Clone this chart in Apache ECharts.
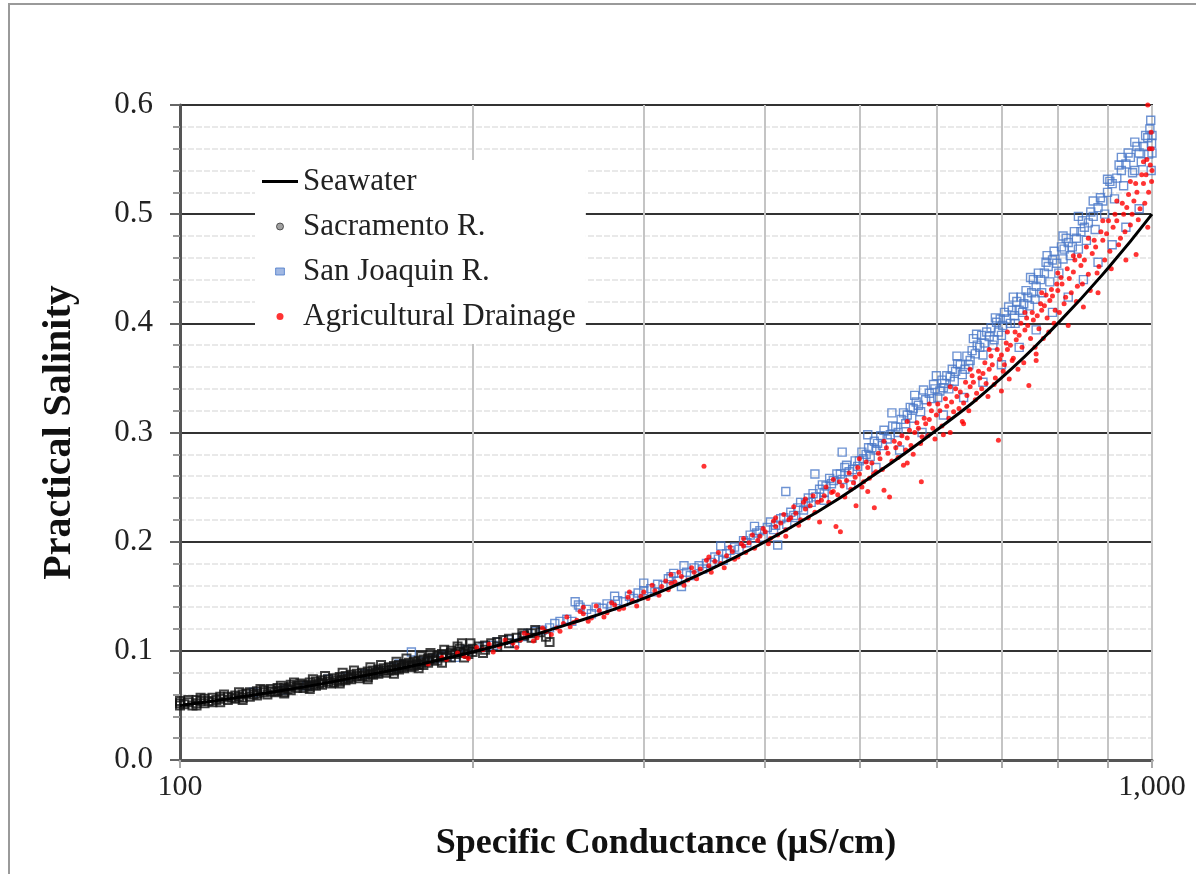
<!DOCTYPE html>
<html>
<head>
<meta charset="utf-8">
<script src="https://cdn.jsdelivr.net/npm/echarts@6/dist/echarts.min.js"></script>
<style>
  html, body { margin: 0; padding: 0; background: #fff; }
  #chart { width: 1196px; height: 874px; }
</style>
</head>
<body>
<div id="chart"></div>
<script>
// seawater reference curve
const seawater = [
  [100, 0.050], [120, 0.060], [150, 0.075], [200, 0.099], [250, 0.124], [300, 0.148],
  [350, 0.174], [400, 0.200], [450, 0.226], [500, 0.252], [600, 0.302], [700, 0.350],
  [800, 0.400], [900, 0.450], [1000, 0.500]
]

const sacramento = [
  [100, .050], [100, .052], [100, .054], [101, .051], [102, .053], [102, .055], [103, .050], [104, .052],
  [104, .055], [105, .054], [106, .052], [106, .056], [107, .054], [108, .057], [108, .053], [109, .055],
  [110, .056], [110, .053], [110, .058], [112, .055], [112, .058], [113, .057], [114, .059], [114, .056],
  [115, .058], [116, .060], [116, .057], [117, .061], [118, .058], [118, .062], [119, .060], [120, .061],
  [120, .063], [120, .059], [122, .062], [122, .064], [123, .060], [124, .063], [124, .065], [125, .062],
  [126, .066], [126, .063], [127, .064], [128, .062], [128, .066], [129, .065], [130, .067], [130, .064],
  [130, .069], [132, .066], [132, .068], [133, .070], [134, .066], [134, .069], [135, .068], [136, .071],
  [136, .067], [137, .069], [138, .072], [138, .068], [139, .070], [140, .073], [140, .069], [140, .071],
  [142, .072], [142, .074], [143, .070], [144, .075], [144, .071], [145, .073], [146, .076], [146, .072],
  [147, .074], [148, .077], [148, .073], [149, .075], [150, .076], [150, .078], [150, .074], [152, .077],
  [152, .079], [153, .075], [154, .080], [154, .077], [155, .078], [156, .081], [156, .076], [157, .079],
  [158, .082], [158, .078], [159, .080], [160, .081], [160, .083], [160, .079], [162, .082], [162, .084],
  [163, .080], [164, .085], [164, .082], [165, .083], [166, .086], [166, .082], [167, .084], [168, .087],
  [168, .083], [169, .085], [170, .086], [170, .088], [170, .084], [172, .087], [172, .089], [173, .085],
  [174, .090], [174, .086], [175, .088], [176, .091], [176, .087], [177, .089], [178, .092], [178, .087],
  [180, .091], [180, .093], [180, .089], [182, .092], [182, .094], [184, .095], [184, .091], [186, .094],
  [186, .097], [188, .095], [190, .098], [190, .094], [190, .100], [192, .097], [194, .099], [194, .102],
  [195, .107], [196, .098], [198, .101], [198, .097], [200, .102], [200, .099], [203, .104], [206, .105],
  [206, .101], [209, .107], [212, .108], [212, .104], [215, .110], [218, .107], [218, .111], [222, .112],
  [226, .114], [230, .116], [230, .112], [235, .117], [238, .113], [240, .108],
  [105, .057], [111, .060], [115, .062], [121, .065], [127, .068], [131, .071], [137, .074], [141, .077],
  [147, .080], [151, .082], [157, .085], [161, .087], [167, .090], [171, .093], [177, .095], [181, .098],
  [187, .101], [193, .104], [199, .107], [104, .050], [116, .055], [128, .061], [136, .065], [146, .070],
  [156, .074], [166, .079], [176, .084], [186, .089], [196, .094], [205, .098], [225, .116], [232, .119]
]

const sanJoaquin = [
  [119, .062], [128, .064], [135, .068], [142, .074], [148, .076], [155, .079], [160, .081], [166, .085],
  [168, .088], [173, .099], [178, .090], [183, .093], [186, .095], [192, .094], [197, .101], [205, .104],
  [210, .105], [212, .108], [218, .110], [221, .107], [225, .113], [228, .116], [232, .118], [236, .119],
  [240, .121], [243, .125], [246, .127], [250, .129], [253, .127],
  [255, .145], [257, .142], [258, .140], [262, .138], [265, .134], [268, .140], [272, .139], [275, .143],
  [278, .141], [282, .146], [286, .145], [290, .150], [293, .148], [296, .153], [300, .155], [305, .157],
  [308, .154], [310, .161], [314, .160], [318, .166], [320, .168], [322, .171], [325, .164], [328, .159],
  [332, .172], [335, .169], [338, .176], [342, .178], [345, .175], [348, .180], [352, .181], [355, .186],
  [358, .184], [362, .183], [365, .189], [368, .192], [372, .195], [376, .193], [380, .201], [383, .199],
  [386, .206], [389, .203], [392, .208], [395, .210], [398, .204],
  [402, .213], [405, .218], [408, .211], [410, .215], [412, .197], [415, .221], [418, .222], [421, .216],
  [425, .227], [428, .224], [432, .231], [435, .236], [438, .229], [440, .235], [443, .240], [446, .236],
  [448, .244], [451, .241], [455, .248], [458, .252], [460, .245], [462, .251], [466, .258], [468, .253],
  [470, .256], [474, .262], [478, .262], [480, .257], [483, .268], [485, .270], [488, .264], [492, .266],
  [495, .274], [498, .269], [500, .274], [503, .282], [505, .276], [508, .280], [511, .286], [513, .278],
  [515, .286], [518, .292], [520, .284], [522, .290], [526, .297], [528, .288], [530, .302], [534, .294],
  [538, .298], [541, .306], [545, .305], [548, .300], [552, .312], [555, .318], [558, .308], [560, .316],
  [564, .323], [566, .313], [568, .322], [572, .328], [575, .325], [578, .319], [582, .339], [585, .330],
  [590, .336], [593, .331], [596, .344], [598, .340],
  [602, .332], [605, .338], [608, .348], [610, .341], [612, .345], [615, .352], [618, .340], [620, .351],
  [623, .358], [626, .347], [628, .356], [631, .363], [635, .362], [638, .353], [642, .358], [645, .370],
  [648, .362], [650, .366], [653, .375], [655, .386], [658, .372], [661, .380], [665, .378], [668, .389],
  [670, .371], [672, .382], [676, .392], [680, .388], [683, .396], [686, .380], [688, .385], [692, .401],
  [695, .392], [698, .404], [700, .389], [702, .398], [705, .410], [708, .404], [712, .415], [715, .400],
  [718, .412], [722, .407], [723, .400], [726, .420], [730, .412], [733, .424], [736, .410], [738, .418],
  [742, .430], [745, .424], [748, .416], [752, .428], [755, .440], [758, .422], [760, .434], [764, .446],
  [768, .440], [770, .428], [775, .446], [778, .456], [782, .452], [785, .438], [790, .458], [793, .466],
  [798, .455],
  [802, .446], [807, .470], [810, .459], [812, .468], [816, .478], [820, .474], [824, .462], [828, .470],
  [832, .484], [836, .478], [840, .468], [845, .484], [848, .494], [852, .488], [856, .476], [860, .492],
  [865, .502], [870, .498], [874, .486], [880, .506], [885, .515], [890, .512], [894, .500], [900, .520],
  [905, .530], [910, .528], [915, .514], [920, .533], [925, .545], [930, .540], [935, .526], [940, .546],
  [945, .556], [950, .552], [955, .538], [960, .540], [965, .562], [970, .556], [975, .548], [980, .562],
  [985, .572], [990, .570], [992, .555], [995, .578], [997, .586], [1000, .556], [998, .540], [1000, .572],
  [999, .565],
  [420, .246], [450, .262], [480, .282], [510, .298], [540, .318], [570, .334], [600, .352], [630, .370],
  [660, .390], [690, .405], [720, .424], [750, .442], [780, .462], [810, .480], [840, .498], [870, .512],
  [900, .532], [930, .552], [960, .566], [430, .222], [460, .238], [490, .252], [520, .268], [550, .284],
  [580, .300], [610, .316], [640, .332], [670, .346], [700, .362], [730, .378], [760, .394], [790, .410],
  [820, .424], [850, .440], [880, .456], [910, .472], [940, .488], [970, .505], [330, .178], [360, .196],
  [390, .214], [300, .162], [280, .150]
]

const agDrainage = [
  [180, .088], [186, .094], [188, .092], [193, .098], [196, .095], [198, .093], [202, .103], [205, .101],
  [208, .106], [210, .099], [213, .104], [216, .110], [220, .107], [222, .103], [224, .110], [226, .116],
  [228, .114], [231, .109], [233, .112], [236, .121], [238, .118], [241, .115], [244, .121], [246, .118],
  [248, .125], [250, .131], [252, .122], [254, .126], [256, .128], [258, .136], [260, .134], [263, .127],
  [265, .130], [268, .141], [270, .137], [273, .131], [275, .135], [278, .144], [280, .142], [283, .138],
  [286, .139], [289, .149], [292, .146], [295, .141], [298, .150],
  [300, .154], [303, .148], [306, .160], [308, .155], [311, .151], [313, .159], [316, .164], [318, .156],
  [320, .162], [323, .163], [326, .172], [328, .168], [330, .160], [333, .165], [336, .176], [338, .172],
  [340, .166], [343, .175], [346, .269], [348, .183], [350, .178], [352, .172], [355, .182], [358, .190],
  [360, .180], [363, .176], [365, .187], [368, .195], [370, .191], [372, .184], [375, .186], [378, .198],
  [380, .196], [382, .190], [385, .199], [388, .206], [390, .194], [393, .201], [395, .205], [398, .212],
  [400, .209], [403, .198], [405, .203], [408, .219], [410, .214], [412, .206], [415, .217], [418, .225],
  [420, .211], [423, .220], [425, .222], [428, .232], [430, .226], [433, .215], [435, .220], [438, .236],
  [440, .230], [443, .222], [445, .233], [448, .242], [450, .227], [453, .236], [455, .218], [457, .238],
  [460, .242], [462, .250], [465, .236], [468, .245], [470, .246], [473, .214], [475, .243], [477, .255],
  [478, .209], [480, .251], [483, .241], [485, .256], [488, .263], [490, .248], [493, .254], [495, .259],
  [496, .233], [498, .268], [500, .262], [503, .250], [505, .255], [508, .273], [510, .268], [512, .258],
  [515, .272], [517, .262], [518, .231], [520, .264], [523, .281], [525, .276], [528, .266], [530, .247],
  [533, .286], [535, .281], [537, .241], [540, .274], [543, .292], [545, .286], [548, .277], [550, .290],
  [553, .297], [555, .270], [558, .284], [560, .295], [563, .302], [565, .288], [568, .280], [570, .300],
  [573, .309], [575, .304], [578, .290], [579, .255], [580, .296], [583, .313], [585, .308], [588, .297],
  [590, .312], [593, .320], [595, .304], [598, .294],
  [600, .316], [602, .326], [605, .320], [608, .306], [610, .298], [613, .331], [615, .324], [618, .313],
  [620, .300], [622, .328], [625, .319], [628, .340], [630, .333], [633, .322], [635, .337], [638, .310],
  [640, .327], [643, .346], [645, .334], [648, .320], [650, .342], [653, .352], [655, .346], [658, .330],
  [660, .336], [663, .356], [665, .350], [668, .340], [670, .354], [673, .364], [675, .345], [678, .333],
  [680, .358], [683, .370], [685, .362], [688, .344], [690, .350], [693, .376], [695, .293], [697, .367],
  [700, .371], [703, .356], [705, .362], [708, .382], [710, .376], [713, .349], [715, .380], [718, .366],
  [720, .368], [723, .392], [725, .385], [728, .358], [730, .389], [733, .400], [735, .378], [738, .364],
  [740, .394], [743, .405], [745, .398], [747, .343], [750, .386], [753, .410], [755, .403], [758, .378],
  [760, .372], [762, .407], [765, .395], [768, .418], [770, .412], [773, .386], [775, .416], [778, .426],
  [780, .405], [783, .392], [785, .421], [788, .431], [790, .425], [793, .400], [795, .412], [798, .436],
  [800, .430], [803, .410], [806, .442], [808, .436], [812, .418], [815, .424], [818, .450], [822, .441],
  [826, .428], [830, .447], [833, .458], [836, .420], [838, .434], [842, .462], [845, .453], [848, .436],
  [850, .415], [852, .458], [856, .470], [860, .445], [864, .430], [868, .464], [872, .476], [875, .470],
  [878, .446], [882, .452], [886, .484], [890, .476], [894, .458], [898, .482], [902, .494], [905, .466],
  [908, .450], [912, .488], [916, .500], [920, .494], [924, .472], [928, .478], [932, .510], [935, .500],
  [938, .484], [942, .506], [946, .518], [950, .490], [954, .500], [958, .512], [962, .528], [963, .463],
  [965, .520], [968, .495], [972, .505], [976, .536], [980, .528], [983, .510], [986, .536], [988, .550],
  [990, .600], [992, .520], [994, .560], [996, .545], [998, .575], [999, .530], [1000, .560], [1000, .540],
  [260, .140], [290, .154], [320, .170], [350, .186], [380, .203], [410, .222], [440, .239], [470, .257],
  [500, .276], [530, .292], [560, .310], [590, .326], [620, .342], [650, .358], [680, .376], [710, .392],
  [740, .410], [770, .428], [800, .446], [830, .462], [860, .478], [890, .494], [920, .512], [950, .530],
  [980, .548], [420, .205], [510, .246], [560, .272], [640, .308], [700, .338], [760, .366], [820, .398],
  [880, .428], [940, .458], [990, .488]
]

const xTickValues = [100, 200, 300, 400, 500, 600, 700, 800, 900, 1000]
const xLabelValues = [100, 1000]

const serif = '"Liberation Serif", "Times New Roman", serif'

const chart = echarts.init(document.getElementById('chart'))

chart.setOption({
  animation: false,
  backgroundColor: '#fff',
  graphic: [{
    type: 'rect',
    shape: { x: 9, y: 4, width: 1200, height: 890 },
    style: { fill: 'none', stroke: '#9a9a9a', lineWidth: 2 },
    silent: true,
  }],
  grid: {
    left: 180,
    right: 44,
    top: 105,
    bottom: 114,
    show: true,
    borderColor: '#333',
    borderWidth: 2,
  },
  legend: {
    orient: 'vertical',
    left: 255,
    top: 160,
    backgroundColor: '#fff',
    padding: [6, 10, 12, 7],
    itemGap: 14,
    itemWidth: 36,
    itemHeight: 7,
    textStyle: { fontFamily: serif, fontSize: 31, color: '#222' },
    data: [
      { name: 'Seawater', icon: 'path://M0,0H36V3H0Z', itemStyle: { color: '#000' } },
      { name: 'Sacramento R.', icon: 'circle', itemStyle: { color: '#888', borderColor: '#333', borderWidth: 1 } },
      { name: 'San Joaquin R.', icon: 'path://M0,0H10V8H0Z', itemStyle: { color: '#8aa6dc', borderColor: '#4a78c8', borderWidth: 1 } },
      { name: 'Agricultural Drainage', icon: 'circle', itemStyle: { color: '#ff0000' } },
    ],
  },
  xAxis: {
    type: 'log',
    logBase: 10,
    min: 100,
    max: 1000,
    name: 'Specific Conductance (µS/cm)',
    nameLocation: 'middle',
    nameGap: 66,
    nameTextStyle: { fontFamily: serif, fontSize: 36, fontWeight: 'bold', color: '#111' },
    axisLine: { lineStyle: { color: '#555', width: 3 } },
    axisTick: { show: true, length: 8, customValues: xTickValues, lineStyle: { color: '#aaa', width: 2 } },
    axisLabel: {
      customValues: xLabelValues,
      margin: 12,
      fontFamily: serif,
      fontSize: 30,
      color: '#222',
      formatter: (v) => Number(v).toLocaleString('en-US'),
    },
    splitLine: { show: true, lineStyle: { color: '#c4c4c4', width: 2 } },
  },
  yAxis: {
    type: 'value',
    min: 0,
    max: 0.6,
    interval: 0.1,
    name: 'Practical Salinity',
    nameLocation: 'middle',
    nameGap: 100,
    nameTextStyle: { fontFamily: serif, fontSize: 40, fontWeight: 'bold', color: '#111' },
    axisLine: { show: true, lineStyle: { color: '#555', width: 3 } },
    axisTick: { show: true, length: 10, lineStyle: { color: '#666', width: 2 } },
    minorTick: { show: true, splitNumber: 5, length: 7, lineStyle: { color: '#999', width: 2 } },
    axisLabel: {
      margin: 27,
      fontFamily: serif,
      fontSize: 31,
      color: '#222',
      formatter: (v) => v.toFixed(1),
    },
    splitLine: { show: true, lineStyle: { color: '#333', width: 2 } },
    minorSplitLine: { show: true, lineStyle: { color: '#e2e2e2', width: 1.5, type: [6, 2] } },
  },
  series: [
    {
      name: 'Seawater',
      type: 'line',
      data: seawater,
      smooth: true,
      symbol: 'none',
      z: 5,
      lineStyle: { color: '#000', width: 3 },
      itemStyle: { color: '#000' },
    },
    {
      name: 'Sacramento R.',
      type: 'scatter',
      data: sacramento,
      symbol: 'rect',
      symbolSize: 8,
      z: 3,
      itemStyle: { color: 'rgba(0,0,0,0)', borderColor: '#111', borderWidth: 2 },
    },
    {
      name: 'San Joaquin R.',
      type: 'scatter',
      data: sanJoaquin,
      symbol: 'rect',
      symbolSize: 8,
      z: 2,
      itemStyle: { color: 'rgba(0,0,0,0)', borderColor: '#4a78c8', borderWidth: 1.4 },
    },
    {
      name: 'Agricultural Drainage',
      type: 'scatter',
      data: agDrainage,
      symbol: 'circle',
      symbolSize: 5,
      z: 4,
      itemStyle: { color: '#ff0000' },
    },
  ],
})
</script>
</body>
</html>
